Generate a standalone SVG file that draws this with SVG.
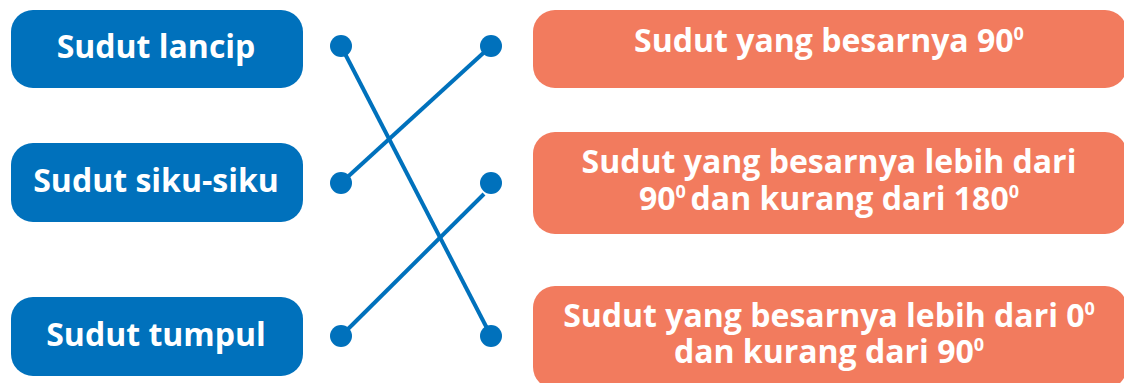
<svg xmlns="http://www.w3.org/2000/svg" width="1124" height="383" viewBox="0 0 1124 383">
<style>
.lbox{fill:#0071BC}
.rbox{fill:#F27B5E}
.t{font-family:"Open Sans","Noto Sans","DejaVu Sans",sans-serif;font-weight:bold;font-size:32px;fill:#FFFFFF;text-anchor:middle}
.sup{font-size:18px}
.dot{fill:#0071BC}
.ln{stroke:#0071BC;stroke-width:4;fill:none}
</style>
<rect width="1124" height="383" fill="#FFFFFF"/>
<g id="left-lancip">
<rect class="lbox" x="11" y="10" width="292" height="78" rx="22"/>
<text class="t" x="156" y="58">Sudut lancip</text>
</g>
<g id="left-siku">
<rect class="lbox" x="11" y="143" width="292" height="79" rx="22"/>
<text class="t" x="156" y="192">Sudut siku-siku</text>
</g>
<g id="left-tumpul">
<rect class="lbox" x="11" y="297" width="292" height="79" rx="22"/>
<text class="t" x="156" y="346">Sudut tumpul</text>
</g>
<g id="right-90">
<rect class="rbox" x="533" y="10" width="594" height="78" rx="22"/>
<text class="t" x="829" y="52">Sudut yang besarnya 90<tspan class="sup" dy="-12">0</tspan></text>
</g>
<g id="right-obtuse">
<rect class="rbox" x="533" y="132" width="594" height="102" rx="22"/>
<text class="t" x="829" y="173">Sudut yang besarnya lebih dari</text>
<text class="t" x="829" y="210">90<tspan class="sup" dy="-12">0 </tspan><tspan dy="12">dan kurang dari 180</tspan><tspan class="sup" dy="-12">0</tspan></text>
</g>
<g id="right-acute">
<rect class="rbox" x="533" y="286" width="594" height="103" rx="22"/>
<text class="t" x="829" y="327">Sudut yang besarnya lebih dari 0<tspan class="sup" dy="-12">0</tspan></text>
<text class="t" x="829" y="363">dan kurang dari 90<tspan class="sup" dy="-12">0</tspan></text>
</g>
<g id="connectors">
<line class="ln" x1="341" y1="46" x2="491" y2="336"/>
<line class="ln" x1="341" y1="183" x2="491" y2="46"/>
<line class="ln" x1="341" y1="336" x2="484" y2="194"/>
<circle class="dot" cx="341" cy="46" r="11"/>
<circle class="dot" cx="341" cy="183" r="11"/>
<circle class="dot" cx="341" cy="336" r="11"/>
<circle class="dot" cx="491" cy="46" r="11"/>
<circle class="dot" cx="491" cy="183" r="11"/>
<circle class="dot" cx="491" cy="336" r="11"/>
</g>
</svg>
